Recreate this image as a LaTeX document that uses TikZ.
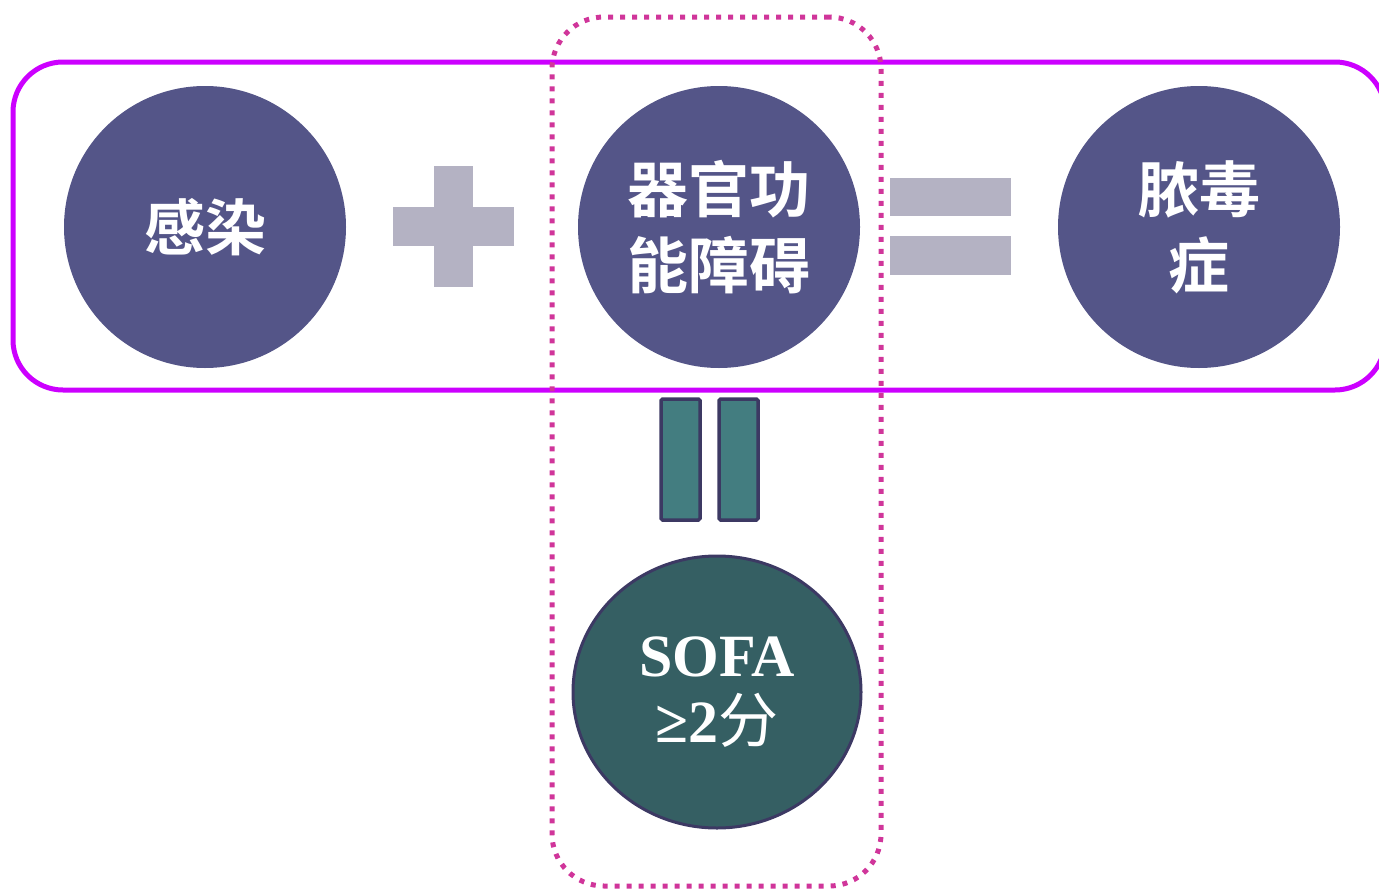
\documentclass[tikz,border=0pt]{standalone}
\usepackage{fontspec}
\usetikzlibrary{shapes.geometric}
\newfontfamily\cjk{Noto Sans CJK SC}[BoldFont={Noto Sans CJK SC Bold}]
\newfontfamily\lat{Liberation Serif}[BoldFont={Liberation Serif Bold}]
\definecolor{circ}{HTML}{545588}
\definecolor{sofa}{HTML}{355F63}
\definecolor{edgeblue}{HTML}{3C3963}
\definecolor{barteal}{HTML}{437D80}
\definecolor{grayb}{HTML}{B4B2C3}
\definecolor{mag}{HTML}{CC00FF}
\definecolor{pinkdot}{HTML}{D0359A}
\begin{document}
\begin{tikzpicture}[x=1pt,y=-1pt,
  bigcirc/.style={circle,fill=circ,minimum size=282pt,inner sep=0pt,text=white,align=center,font=\cjk\bfseries\fontsize{61}{76}\selectfont},
  graybar/.style={fill=grayb,draw=none},
  tealbar/.style={fill=barteal,draw=edgeblue,line width=3.5pt,rounded corners=1.5pt}]
\useasboundingbox (0,0) rectangle (1379,889);
% outer purple rounded box
\node[draw=mag,line width=5pt,rounded corners=50pt,minimum width=1372pt,minimum height=328pt,inner sep=0pt] (band) at (699,226) {};
% circles
\node[bigcirc] (inf) at (205,227) {感染};
\node[bigcirc] (org) at (719,227) {器官功\\能障碍};
\node[bigcirc] (sep) at (1199,227) {脓毒\\症};
% plus
\fill[graybar] (393,207) rectangle (514,246);
\fill[graybar] (434,166) rectangle (473,287);
% equals
\fill[graybar] (890,178) rectangle (1011,216);
\fill[graybar] (890,236) rectangle (1011,275);
% vertical equals (teal bars)
\draw[tealbar] (661,399) rectangle (700,520);
\draw[tealbar] (719,399) rectangle (758,520);
% SOFA ellipse
\node[ellipse,fill=sofa,draw=edgeblue,line width=3pt,minimum width=288pt,minimum height=272pt,inner sep=0pt,text=white,align=center,font=\lat\bfseries\fontsize{60}{66}\selectfont] (sofa) at (717,692)
  {\raisebox{-3pt}{\lat\bfseries SOFA}\\\raisebox{-3pt}{\lat\bfseries ≥2}\raisebox{-3pt}{\cjk\mdseries 分}};
% dotted box
\node[draw=pinkdot,line width=5pt,dash pattern=on 5pt off 7pt,rounded corners=52pt,minimum width=329pt,minimum height=869pt,inner sep=0pt] (focus) at (716.5,451.5) {};
\end{tikzpicture}
\end{document}
